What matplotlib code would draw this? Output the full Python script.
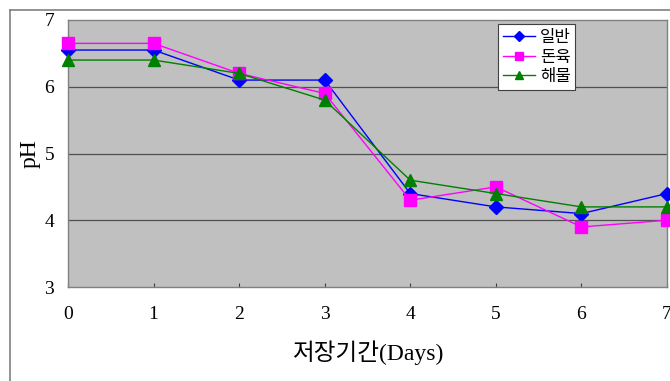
import matplotlib
matplotlib.use("Agg")
import matplotlib.pyplot as plt
from matplotlib.lines import Line2D

days = [0, 1, 2, 3, 4, 5, 6, 7]
series_names = ["일반", "돈육", "해물"]
ph_normal = [6.55, 6.55, 6.1, 6.1, 4.4, 4.2, 4.1, 4.4]
ph_pork = [6.65, 6.65, 6.2, 5.9, 4.3, 4.5, 3.9, 4.0]
ph_seafood = [6.4, 6.4, 6.2, 5.8, 4.6, 4.4, 4.2, 4.2]
yticks = [3, 4, 5, 6, 7]

fams = ['Liberation Serif', 'Noto Sans CJK KR', 'DejaVu Sans']
plt.rcParams['font.family'] = fams

fig = plt.figure(figsize=(6.7, 3.81), dpi=100)
ax = fig.add_axes([68/670, 1-287/381, 599/670, 267/381])
ax.set_facecolor('#C0C0C0')

styles = [
    (ph_normal, '#0000FF', 'D', 7),
    (ph_pork, '#FF00FF', 's', 8),
    (ph_seafood, '#008000', '^', 8.5),
]
for (vals, c, m, ms), name in zip(styles, series_names):
    ax.plot(days, vals, color=c, marker=m, markersize=ms, linewidth=1.0,
            label=name, clip_on=False, zorder=3)

ax.set_xlim(0, 7)
ax.set_ylim(3, 7)
ax.set_xticks(days)
ax.set_yticks(yticks)
for y in [4, 5, 6]:
    ax.axhline(y, color='#505050', linewidth=0.9, zorder=1)
for s in ax.spines.values():
    s.set_color('#808080')
    s.set_linewidth(1.0)
ax.tick_params(axis='x', direction='in', length=3, color='#404040', labelsize=14, pad=14)
ax.tick_params(axis='y', length=0, labelsize=14, pad=10)

ax.set_xlabel('저장기간(Days)', fontsize=17, labelpad=12)
ax.set_ylabel('pH', fontsize=17, labelpad=3)

leg = ax.legend(loc='upper left', bbox_to_anchor=(0.718, 0.985), borderaxespad=0,
                frameon=True, fancybox=False, framealpha=1, edgecolor='#404040',
                handlelength=1.9, handletextpad=0.3, borderpad=0.3, markerscale=0.7,
                labelspacing=0.15, prop={'family': ['Noto Sans CJK KR'], 'size': 12})
leg.get_frame().set_linewidth(0.8)

# outer frame
fig.add_artist(Line2D([10/670, 10/670], [0, 1-10/381], color='#808080', linewidth=1.2))
fig.add_artist(Line2D([10/670, 1], [1-10/381, 1-10/381], color='#808080', linewidth=1.2))

fig.savefig('out.png', dpi=100)
